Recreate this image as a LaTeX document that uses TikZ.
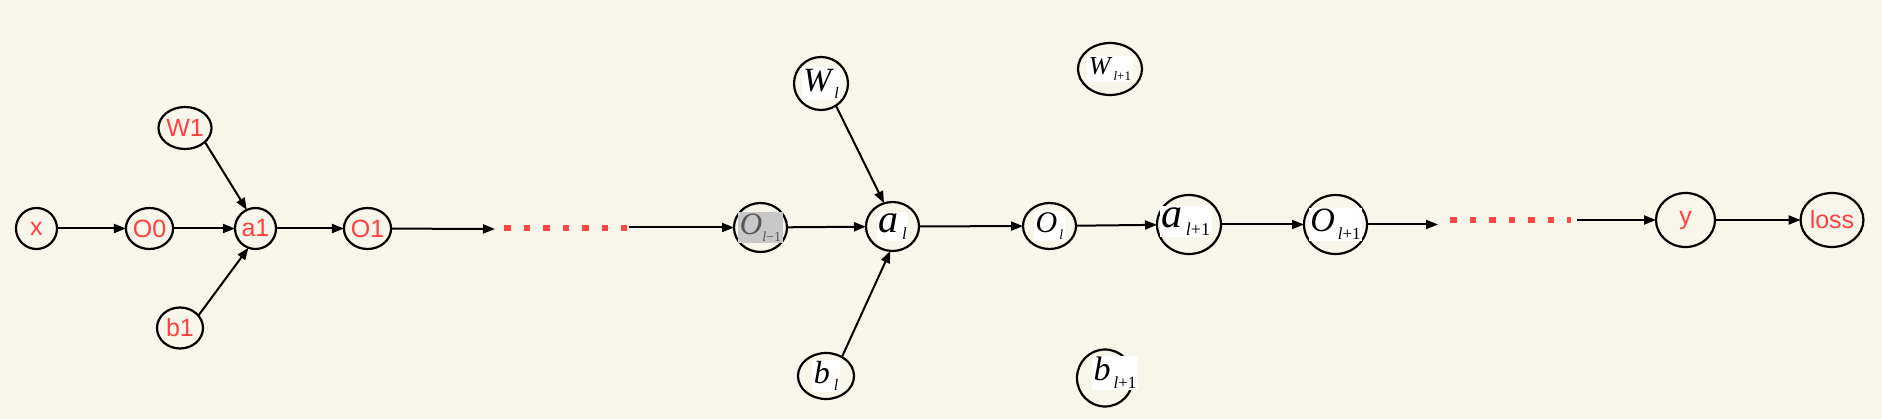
\documentclass[tikz,border=0pt]{standalone}
\usepackage{fontspec}
\setmainfont{Liberation Serif}
\newfontfamily\redsans{Liberation Sans}
\usetikzlibrary{shapes.geometric,arrows.meta}
\definecolor{bgcream}{RGB}{248,246,234}
\definecolor{nodered}{RGB}{255,64,64}
\definecolor{dotred}{RGB}{255,70,70}
\definecolor{boxgray}{RGB}{200,200,200}
\definecolor{txtgray}{RGB}{85,85,85}
\newcommand\fsz[1]{\fontsize{#1}{#1}\selectfont}
\newcommand\subl[3]{\raisebox{#1}{\fsz{#2}#3}}
\begin{document}
\begin{tikzpicture}[x=1pt,y=-1pt,
  ell/.style 2 args={ellipse, draw=black, line width=2.2pt, inner sep=0pt, outer sep=0pt,
    minimum width={2*#1pt}, minimum height={2*#2pt}},
  rtxt/.style={text=nodered, font=\redsans\fsz{25}},
  mlab/.style={fill=white, inner sep=1.5pt, text=black},
  glab/.style={fill=boxgray, inner sep=1.5pt, text=txtgray},
  arr/.style={-{Triangle[length=12pt,width=9pt]}, line width=2pt},
  reddot/.style={draw=dotred, line width=6.5pt, dash pattern=on 6.5pt off 13pt}]
\fill[bgcream] (0,0) rectangle (1882,419);
\useasboundingbox (0,0) rectangle (1882,419);
% red nodes
\node[ell={20.5}{20.5}, rtxt] (x) at (36.5,228.5) {x};
\node[ell={20.5}{20.5}, rtxt] (O0) at (149.5,228.5) {O0};
\node[ell={22.5}{21}, rtxt] (W1) at (185,128) {W1};
\node[ell={20.5}{20.5}, rtxt] (a1) at (255.5,228.5) {a1};
\node[ell={23}{20.5}, rtxt] (b1) at (180,328) {b1};
\node[ell={20.5}{20.5}, rtxt] (O1) at (367.5,228.5) {O1};
\node[ell={29.5}{27}, rtxt] (y) at (1685.5,220) {y};
\node[ell={30}{27}, rtxt] (loss) at (1832,220) {loss};
% math nodes
\node[ell={26.5}{24.5}, label={[glab]center:{{\itshape\fsz{31}O}\subl{-7pt}{14}{\textit{l}−1}}}] (Olm1) at (760.5,227.5) {};
\node[ell={27}{26.5}, label={[mlab]center:{{\itshape\fsz{34}W}\hspace{3pt}\subl{-7pt}{16}{\textit{l}}}}] (Wl) at (821,83.5) {};
\node[ell={26.5}{24.5}, label={[mlab]center:{{\itshape\fsz{40}a}\hspace{4pt}\subl{-7pt}{17}{\textit{l}}}}] (al) at (892.5,226.5) {};
\node[ell={28}{23}, label={[mlab]center:{{\itshape\fsz{32}b}\hspace{4pt}\subl{-7pt}{16}{\textit{l}}}}] (bl) at (826,376) {};
\node[ell={26.5}{23}, label={[mlab]center:{{\itshape\fsz{30}O}\hspace{2pt}\subl{-7pt}{14}{\textit{l}}}}] (Ol) at (1049.5,226) {};
\node[ell={32}{26}, label={[mlab]center:{{\itshape\fsz{26}W}\hspace{3pt}\subl{-6pt}{13}{\textit{l}+1}}}] (Wl1) at (1110,69) {};
\node[ell={28}{28.5}, label={[mlab, xshift=10pt, yshift=5pt]center:{{\itshape\fsz{34}b}\hspace{3pt}\subl{-8pt}{17}{\textit{l}+1}}}] (bl1) at (1105,378) {};
\node[ell={32}{29.5}, label={[mlab, xshift=-3pt, yshift=3pt]center:{{\itshape\fsz{42}a}\hspace{3pt}\subl{-8pt}{18}{\textit{l}+1}}}] (al1) at (1189,224.5) {};
\node[ell={31.5}{29.5}, label={[mlab]center:{{\itshape\fsz{34}O}\hspace{3pt}\subl{-8pt}{17}{\textit{l}+1}}}] (Ol1) at (1335.5,224.5) {};
% free ends
\coordinate (c1) at (495,229);
\coordinate (d1s) at (504,228);
\coordinate (d1e) at (627,228);
\coordinate (c2) at (629,227.5);
\coordinate (c3) at (1438,224.5);
\coordinate (d2s) at (1450,220);
\coordinate (d2e) at (1571,220);
\coordinate (c4) at (1577,220);
% connectors
\draw[arr] (x) -- (O0);
\draw[arr] (O0) -- (a1);
\draw[arr] (W1.-35) -- (a1.115);
\draw[arr] (b1.34) -- (a1.-110);
\draw[arr] (a1) -- (O1);
\draw[arr] (O1) -- (c1);
\draw[reddot] (d1s) -- (d1e);
\draw[arr] (c2) -- (Olm1);
\draw[arr] (Olm1) -- (al);
\draw[arr] (Wl.-56) -- (al.110);
\draw[arr] (bl.50) -- (al.-95);
\draw[arr] (al) -- (Ol);
\draw[arr] (Ol) -- (al1);
\draw[arr] (al1) -- (Ol1);
\draw[arr] (Ol1) -- (c3);
\draw[reddot] (d2s) -- (d2e);
\draw[arr] (c4) -- (y);
\draw[arr] (y) -- (loss);
\end{tikzpicture}
\end{document}
